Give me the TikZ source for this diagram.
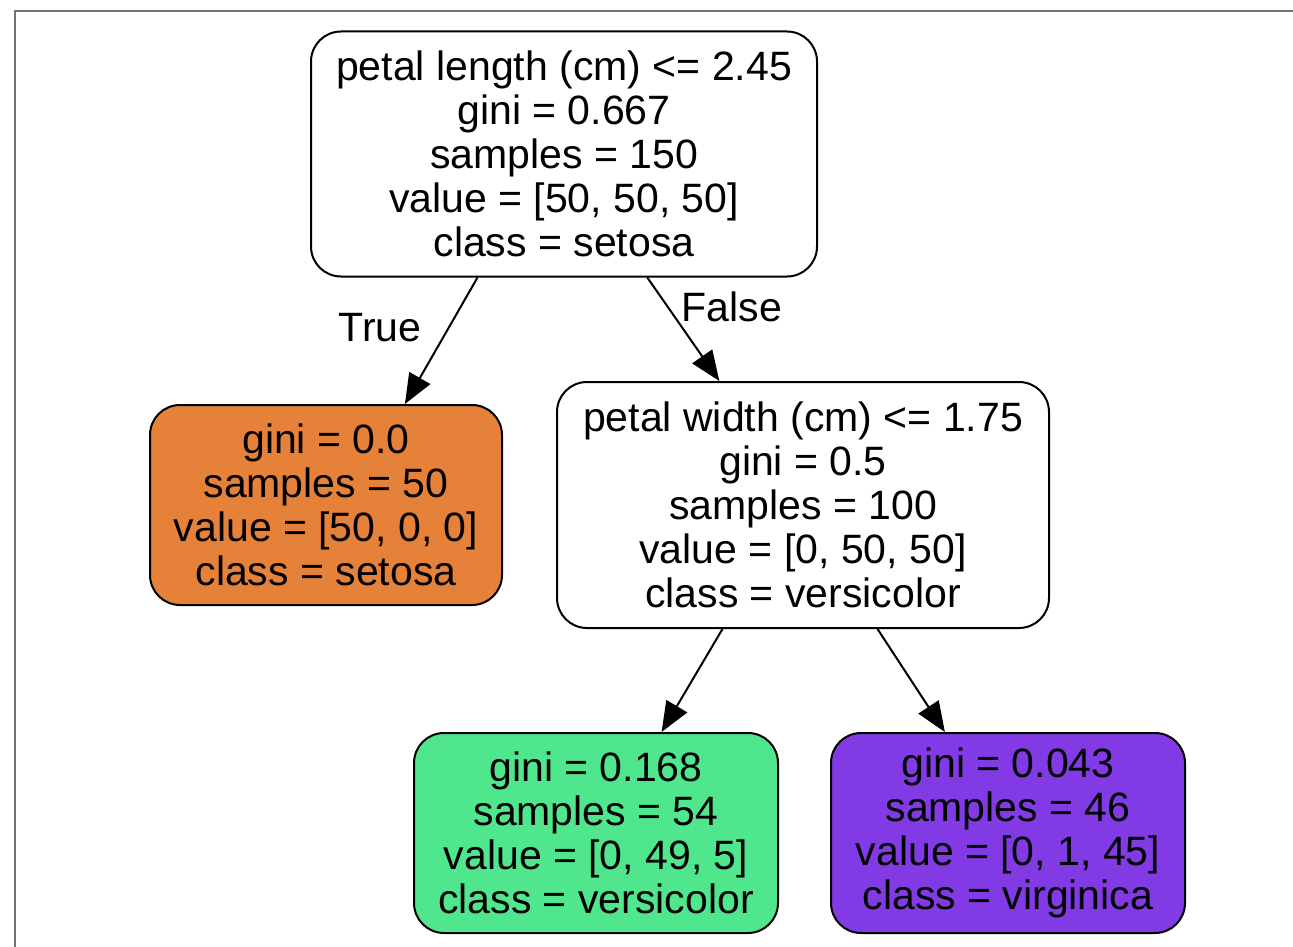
\documentclass[tikz,border=0pt]{standalone}
\usepackage{fontspec}
\setmainfont{Liberation Sans}
\usetikzlibrary{arrows.meta}
\definecolor{setosacol}{RGB}{229,129,57}
\definecolor{versicol}{RGB}{80,230,141}
\definecolor{virgcol}{RGB}{130,58,228}
\begin{document}
\begin{tikzpicture}[x=1pt, y=-1pt,
  treenode/.style={draw, line width=2pt, rounded corners=30pt, align=center, inner sep=0pt,
    font=\fontsize{41}{44}\selectfont},
  edgelbl/.style={font=\fontsize{41}{44}\selectfont, inner sep=0pt},
  split/.style={->, line width=2pt, >={Triangle[length=30pt, width=24pt]}}]
\useasboundingbox (0,0) rectangle (1293,947);
\draw[line width=1.8pt, black!55] (15,947) -- (15,11) -- (1293,11);
\node[treenode, minimum width=506pt, minimum height=245pt] (n0) at (564,154)
  {petal length (cm) <= 2.45\\gini = 0.667\\samples = 150\\value = [50, 50, 50]\\class = setosa};
\node[treenode, fill=setosacol, minimum width=352pt, minimum height=200pt] (n1) at (326,505)
  {gini = 0.0\\samples = 50\\value = [50, 0, 0]\\class = setosa};
\node[treenode, minimum width=492pt, minimum height=246pt] (n2) at (803,505)
  {petal width (cm) <= 1.75\\gini = 0.5\\samples = 100\\value = [0, 50, 50]\\class = versicolor};
\node[treenode, fill=versicol, minimum width=364pt, minimum height=200pt] (n3) at (596,833)
  {gini = 0.168\\samples = 54\\value = [0, 49, 5]\\class = versicolor};
\node[treenode, fill=virgcol, minimum width=354pt, minimum height=200pt] (n4) at (1008,833)
  {gini = 0.043\\samples = 46\\value = [0, 1, 45]\\class = virginica};
\draw[split](n0.235.7) -- (n1.52.4);
\draw[split](n0.304.3) -- (n2.124);
\draw[split](n2.237.6) -- (n3.57.4);
\draw[split](n2.301.7) -- (n4.122.2);
\node[edgelbl] (ltrue) at (380,328) {True};
\node[edgelbl] (lfalse) at (732,307) {False};
\end{tikzpicture}
\end{document}
